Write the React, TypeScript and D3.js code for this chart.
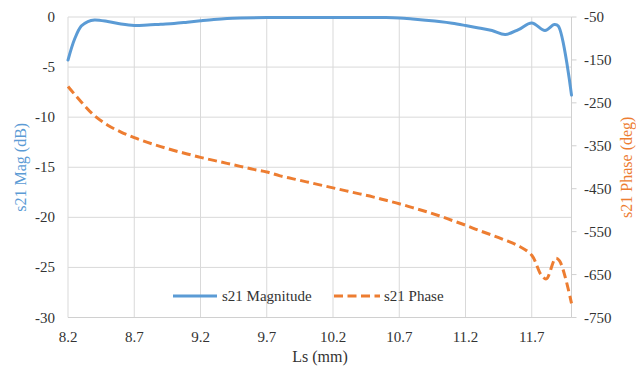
import React from "react";
import * as d3 from "d3";

// Ls sweep (mm) and the two s21 responses
const lsMag = [8.2, 8.25, 8.3, 8.35, 8.4, 8.5, 8.6, 8.7, 8.8, 8.9, 9.0, 9.1, 9.2, 9.3, 9.4, 9.5, 9.7, 10.0, 10.3, 10.6, 10.7, 10.8, 10.9, 11.0, 11.1, 11.2, 11.3, 11.4, 11.5, 11.6, 11.7, 11.8, 11.87, 11.9, 12.0];
const magDb = [-4.3, -2.2, -0.9, -0.45, -0.3, -0.45, -0.7, -0.85, -0.8, -0.72, -0.65, -0.52, -0.38, -0.25, -0.15, -0.1, -0.06, -0.05, -0.05, -0.06, -0.1, -0.2, -0.32, -0.45, -0.62, -0.85, -1.1, -1.35, -1.75, -1.25, -0.6, -1.35, -0.75, -0.9, -7.8];

const lsPhase = [8.2, 8.3, 8.4, 8.5, 8.6, 8.7, 8.8, 8.9, 9.0, 9.1, 9.2, 9.3, 9.4, 9.5, 9.6, 9.7, 9.8, 9.9, 10.0, 10.1, 10.2, 10.3, 10.4, 10.5, 10.6, 10.7, 10.8, 10.9, 11.0, 11.1, 11.2, 11.3, 11.4, 11.5, 11.6, 11.7, 11.77, 11.81, 11.88, 11.91, 12.0];
const phaseDeg = [-212, -248, -280, -302, -318, -331, -342, -352, -361, -369, -377, -384, -391, -398, -405, -411, -420, -427, -434, -441, -448, -455, -462, -469, -477, -485, -494, -503, -513, -524, -535, -547, -558, -570, -583, -605, -650, -660, -612, -618, -717];

const xTicks = [8.2, 8.7, 9.2, 9.7, 10.2, 10.7, 11.2, 11.7];
const magTicks = [0, -5, -10, -15, -20, -25, -30];
const phaseTicks = [-50, -150, -250, -350, -450, -550, -650, -750];

const W = 636;
const H = 370;
const left = 68;
const right = 571.5;
const top = 17;
const bottom = 317.5;

const blue = "#5B9BD5";
const orange = "#ED7D31";
const grid = "#D9D9D9";
const ink = "#333333";
const fontStyle = { fontFamily: '"Liberation Serif", "Times New Roman", Times, serif' };

export default function App() {
  const x = d3.scaleLinear().domain([8.2, 12.0]).range([left, right]);
  const yMag = d3.scaleLinear().domain([-30, 0]).range([bottom, top]);
  const yPh = d3.scaleLinear().domain([-750, -50]).range([bottom, top]);

  const magLine = d3
    .line<number>()
    .x((_, i) => x(lsMag[i]))
    .y((d) => yMag(d))
    .curve(d3.curveCatmullRom.alpha(0.5));
  const phLine = d3
    .line<number>()
    .x((_, i) => x(lsPhase[i]))
    .y((d) => yPh(d))
    .curve(d3.curveCatmullRom.alpha(0.5));

  const legendY = 296;

  return (
    <svg
      width={W}
      height={H}
      style={{ position: "absolute", left: 0, top: 0, background: "#fff" }}
    >
      <rect width={W} height={H} fill="#fff" />
      {/* horizontal gridlines */}
      {magTicks.map((t) => (
        <line key={"h" + t} x1={left} x2={right} y1={yMag(t)} y2={yMag(t)} stroke={grid} strokeWidth={1} />
      ))}
      {/* vertical gridlines */}
      {xTicks.map((t) => (
        <line key={"v" + t} x1={x(t)} x2={x(t)} y1={top} y2={bottom} stroke={grid} strokeWidth={1} />
      ))}
      {/* bottom axis and right axis */}
      <line x1={left} x2={right} y1={bottom} y2={bottom} stroke="#D0D0D0" strokeWidth={1} />
      <line x1={right} x2={right} y1={top} y2={bottom} stroke="#D0D0D0" strokeWidth={1} />
      {phaseTicks.map((t) => (
        <line key={"pt" + t} x1={right} x2={right + 5} y1={yPh(t)} y2={yPh(t)} stroke="#D0D0D0" strokeWidth={1} />
      ))}

      {/* tick labels */}
      {xTicks.map((t) => (
        <text key={"xl" + t} style={fontStyle} x={x(t)} y={342} textAnchor="middle" fontSize={15} fill={ink}>
          {t.toFixed(1)}
        </text>
      ))}
      {magTicks.map((t) => (
        <text key={"ml" + t} style={fontStyle} x={55} y={yMag(t) + 5} textAnchor="end" fontSize={15} fill={ink}>
          {t}
        </text>
      ))}
      {phaseTicks.map((t) => (
        <text key={"pl" + t} style={fontStyle} x={584} y={yPh(t) + 5} textAnchor="start" fontSize={15} fill={ink}>
          {t}
        </text>
      ))}

      {/* axis titles */}
      <text style={fontStyle} x={320} y={362} textAnchor="middle" fontSize={16} fill={ink}>
        Ls (mm)
      </text>
      <text
        style={fontStyle}
        transform={`translate(26,${(top + bottom) / 2}) rotate(-90)`}
        textAnchor="middle"
        fontSize={16}
        fill={blue}
      >
        s21 Mag (dB)
      </text>
      <text
        style={fontStyle}
        transform={`translate(632,${(top + bottom) / 2}) rotate(-90)`}
        textAnchor="middle"
        fontSize={16}
        fill={orange}
      >
        s21 Phase (deg)
      </text>

      {/* series */}
      <path d={magLine(magDb) || ""} fill="none" stroke={blue} strokeWidth={3} strokeLinejoin="round" strokeLinecap="round" />
      <path d={phLine(phaseDeg) || ""} fill="none" stroke={orange} strokeWidth={3} strokeDasharray="9 4.5" />

      {/* legend */}
      <line x1={173} x2={217} y1={legendY} y2={legendY} stroke={blue} strokeWidth={3} />
      <text style={fontStyle} x={222} y={legendY + 5} fontSize={15} fill={ink}>
        s21 Magnitude
      </text>
      <line x1={334} x2={380} y1={legendY} y2={legendY} stroke={orange} strokeWidth={3} strokeDasharray="9 4.5" />
      <text style={fontStyle} x={384} y={legendY + 5} fontSize={15} fill={ink}>
        s21 Phase
      </text>
    </svg>
  );
}
